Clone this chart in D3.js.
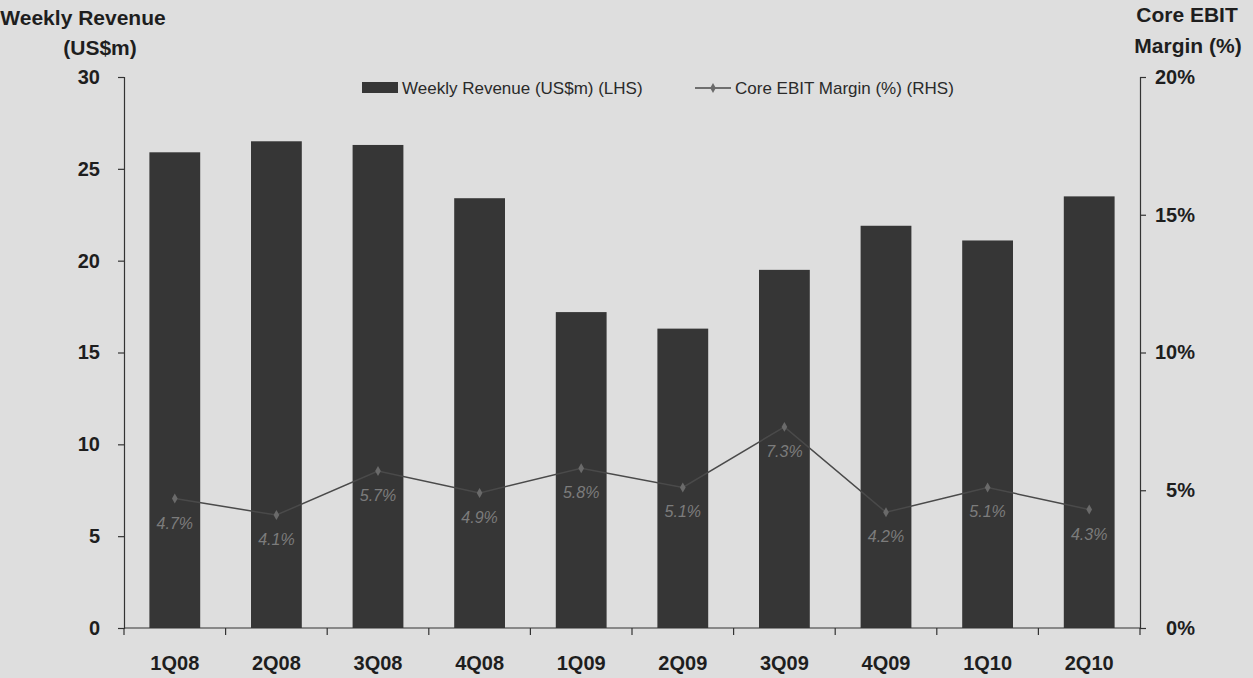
<!DOCTYPE html>
<html>
<head>
<meta charset="utf-8">
<script src="https://cdn.jsdelivr.net/npm/d3@7"></script>
<style>
  html, body { margin: 0; padding: 0; background: #dedede; }
  svg { display: block; font-family: "Liberation Sans", Arial, sans-serif; }
</style>
</head>
<body>
<svg id="chart" width="1253" height="678"></svg>
<script>
// Quarterly data
const quarters = ["1Q08", "2Q08", "3Q08", "4Q08", "1Q09", "2Q09", "3Q09", "4Q09", "1Q10", "2Q10"];
const weeklyRevenue = [25.9, 26.5, 26.3, 23.4, 17.2, 16.3, 19.5, 21.9, 21.1, 23.5];
const coreEbitMargin = [4.7, 4.1, 5.7, 4.9, 5.8, 5.1, 7.3, 4.2, 5.1, 4.3];
const leftTicks = [0, 5, 10, 15, 20, 25, 30];
const rightTicks = [0, 5, 10, 15, 20];

const svg = d3.select("#chart");
const plot = { left: 124, right: 1140, top: 77, bottom: 628 };

const x = d3.scaleBand().domain(quarters).range([plot.left, plot.right]).paddingInner(0.5).paddingOuter(0.25);
const yL = d3.scaleLinear().domain([0, 30]).range([plot.bottom, plot.top]);
const yR = d3.scaleLinear().domain([0, 20]).range([plot.bottom, plot.top]);

const barColor = "#363636";
const lineColor = "#4a4a4a";
const textColor = "#1e1e1e";
const axisFont = "Liberation Sans, Arial, sans-serif";

// Bars
svg.append("g").selectAll("rect").data(quarters).join("rect")
  .attr("x", d => x(d))
  .attr("width", x.bandwidth())
  .attr("y", (d, i) => yL(weeklyRevenue[i]))
  .attr("height", (d, i) => yL(0) - yL(weeklyRevenue[i]))
  .attr("fill", barColor);

// Margin line
const cx = d => x(d) + x.bandwidth() / 2;
svg.append("path")
  .datum(quarters)
  .attr("fill", "none")
  .attr("stroke", lineColor)
  .attr("stroke-width", 1.5)
  .attr("d", d3.line().x(d => cx(d)).y((d, i) => yR(coreEbitMargin[i])));

svg.append("g").selectAll("path").data(quarters).join("path")
  .attr("transform", (d, i) => `translate(${cx(d)},${yR(coreEbitMargin[i])})`)
  .attr("d", d3.symbol(d3.symbolDiamond, 28))
  .attr("fill", "#6a6a6a");

// Margin labels
svg.append("g").selectAll("text").data(quarters).join("text")
  .attr("x", d => cx(d))
  .attr("y", (d, i) => yR(coreEbitMargin[i]) + 30)
  .attr("text-anchor", "middle")
  .attr("font-size", 16)
  .attr("font-style", "italic")
  .attr("fill", "#7c7c7c")
  .text((d, i) => coreEbitMargin[i].toFixed(1) + "%");

// Left axis
const leftAxis = svg.append("g")
  .attr("transform", `translate(${plot.left},0)`)
  .call(d3.axisLeft(yL).tickValues(leftTicks).tickSize(6).tickPadding(18));
leftAxis.selectAll("text").attr("font-size", 20).attr("font-weight", "bold").attr("fill", textColor).attr("font-family", axisFont);

// Right axis (labels right-aligned in a column)
const rightAxis = svg.append("g")
  .attr("transform", `translate(${plot.right},0)`)
  .call(d3.axisRight(yR).tickValues(rightTicks).tickFormat(d => d + "%").tickSize(6));
rightAxis.selectAll("text")
  .attr("x", 55).attr("text-anchor", "end")
  .attr("font-size", 20).attr("font-weight", "bold").attr("fill", textColor).attr("font-family", axisFont);

// Bottom axis: labels centred under bars, ticks on category boundaries
const bottom = svg.append("g").attr("transform", `translate(0,${plot.bottom})`);
bottom.append("line").attr("x1", plot.left).attr("x2", plot.right).attr("stroke", "#333").attr("stroke-width", 1.2);
const boundaries = d3.range(quarters.length + 1).map(i => plot.left + i * (plot.right - plot.left) / quarters.length);
bottom.selectAll("line.tick").data(boundaries).join("line")
  .attr("class", "tick")
  .attr("x1", d => d).attr("x2", d => d).attr("y1", 0).attr("y2", 7)
  .attr("stroke", "#333").attr("stroke-width", 1.2);
bottom.selectAll("text").data(quarters).join("text")
  .attr("x", d => cx(d))
  .attr("y", 42)
  .attr("text-anchor", "middle")
  .attr("font-size", 20)
  .attr("font-weight", "bold")
  .attr("fill", textColor)
  .text(d => d);

svg.selectAll(".domain").attr("stroke", "#333").attr("stroke-width", 1.2);
svg.selectAll(".tick line").attr("stroke", "#333").attr("stroke-width", 1.2);

// Axis titles
const titleStyle = sel => sel.attr("font-size", 21).attr("font-weight", "bold").attr("fill", textColor).attr("text-anchor", "middle");
svg.append("text").attr("x", 83).attr("y", 25).call(titleStyle).text("Weekly Revenue");
svg.append("text").attr("x", 100).attr("y", 55).call(titleStyle).text("(US$m)");
svg.append("text").attr("x", 1187).attr("y", 22).call(titleStyle).text("Core EBIT");
svg.append("text").attr("x", 1188).attr("y", 53).call(titleStyle).text("Margin (%)");

// Legend
const legend = svg.append("g").attr("font-size", 17).attr("fill", "#2a2a2a");
legend.append("rect").attr("x", 362).attr("y", 82).attr("width", 36).attr("height", 11).attr("fill", barColor);
legend.append("text").attr("x", 402).attr("y", 94).text("Weekly Revenue (US$m) (LHS)");
legend.append("line").attr("x1", 695).attr("x2", 731).attr("y1", 88).attr("y2", 88).attr("stroke", lineColor).attr("stroke-width", 1.5);
legend.append("path").attr("transform", "translate(713,88)").attr("d", d3.symbol(d3.symbolDiamond, 28)).attr("fill", "#6a6a6a");
legend.append("text").attr("x", 735).attr("y", 94).text("Core EBIT Margin (%) (RHS)");
</script>
</body>
</html>
